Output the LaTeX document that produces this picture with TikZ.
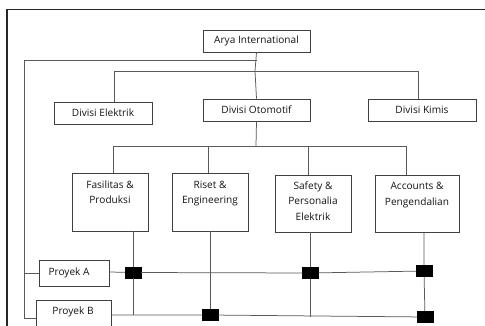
\documentclass[tikz,border=0pt]{standalone}
\usepackage{fontspec}
\setmainfont{Open Sans}
\begin{document}
\begin{tikzpicture}[x=1pt,y=-1pt,
  box/.style={draw=black!75,line width=0.8pt,inner sep=0pt},
  lbl/.style={font=\fontsize{10.1}{15.3}\selectfont,align=center,inner sep=0pt,text=black!92},
  conn/.style={draw=black!65,line width=0.75pt},
  sq/.style={fill=black,draw=black,inner sep=0pt,minimum width=16pt,minimum height=11pt}]
\clip (0,0) rectangle (485,326);
\fill[white] (0,0) rectangle (485,326);
\draw[line width=1.6pt,black!85] (7,340) -- (7,9.5) -- (500,9.5);
% top level
\node[box,lbl,minimum width=107pt,minimum height=22pt] (ar) at (256.5,41) {Arya International};
\node[box,lbl,minimum width=98pt,minimum height=22pt] (el) at (103,113) {Divisi Elektrik};
\node[box,lbl,minimum width=107pt,minimum height=22pt] (ot) at (256.5,110) {Divisi Otomotif};
\node[box,lbl,minimum width=108pt,minimum height=22pt] (ki) at (422,110) {Divisi Kimis};
% lower boxes
\node[box,minimum width=76pt,minimum height=58pt] (fa) at (110,202) {};
\node[box,minimum width=76pt,minimum height=58pt] (ri) at (210,202) {};
\node[box,minimum width=76pt,minimum height=57pt] (sa) at (313,203.5) {};
\node[box,minimum width=84pt,minimum height=57pt] (ac) at (417,204.3) {};
\node[lbl,anchor=north] (fat) at ([yshift=-8pt]fa.north) {Fasilitas \&\\Produksi};
\node[lbl,anchor=north] (rit) at ([yshift=-8pt]ri.north) {Riset \&\\Engineering};
\node[lbl,anchor=north] (sat) at ([yshift=-7pt]sa.north) {Safety \&\\Personalia\\Elektrik};
\node[lbl,anchor=north] (act) at ([yshift=-7pt]ac.north) {Accounts \&\\Pengendalian};
% projects
\node[box,minimum width=70pt,minimum height=26pt] (pa) at (74,273) {};
\node[lbl] (pat) at (69,273) {Proyek A};
\node[box,minimum width=75pt,minimum height=40pt,anchor=north west] (pb) at (36,300) {};
\node[lbl] (pbt) at (73,312) {Proyek B};
% coordinates
\coordinate (t1) at (255,71);
\coordinate (lft) at (24,60);
\coordinate (l1) at (114,71);
\coordinate (r1) at (418,71);
\coordinate (t2) at (256,146);
\coordinate (d1) at (113,146);
\coordinate (d2) at (208,146);
\coordinate (d3) at (308,146);
\coordinate (d4) at (406,146);
% squares
\node[sq] (sA1) at (133,272.5) {};
\node[sq] (sA2) at (310.5,273) {};
\node[sq] (sA3) at (424,271) {};
\node[sq] (sB1) at (210,315) {};
\node[sq] (sB2) at (425,317) {};
% connectors
\draw[conn] (ar.south) -- (t1);
\draw[conn] (ar.south |- lft) -- (lft) |- (pb.west |- 0,318) ;
\draw[conn] (lft |- pa.west) -- (pa.west);
\draw[conn] (l1) -- (r1);
\draw[conn] (l1) -- (l1 |- el.north);
\draw[conn] (r1) -- (r1 |- ki.north);
\draw[conn] (t1) -- (ot.north);
\draw[conn] (ot.south) -- (t2);
\draw[conn] (d1) -- (d4);
\draw[conn] (d1) -- (d1 |- fa.north);
\draw[conn] (d2) -- (d2 |- ri.north);
\draw[conn] (d3) -- (d3 |- sa.north);
\draw[conn] (d4) -- (d4 |- ac.north);
\draw[conn] (pa.east |- 0,272) -- (sA1) -- (sA2) -- (sA3);
\draw[conn] (pb.east |- 0,315) -- (sB1) -- (sB2);
\draw[conn] (sA1 |- fa.south) -- (sA1) -- (133,315);
\draw[conn] (sB1 |- ri.south) -- (sB1);
\draw[conn] (sA2 |- sa.south) -- (sA2) -- (310.5,317);
\draw[conn] (sA3 |- ac.south) -- (sA3) -- (sB2);
\end{tikzpicture}
\end{document}
